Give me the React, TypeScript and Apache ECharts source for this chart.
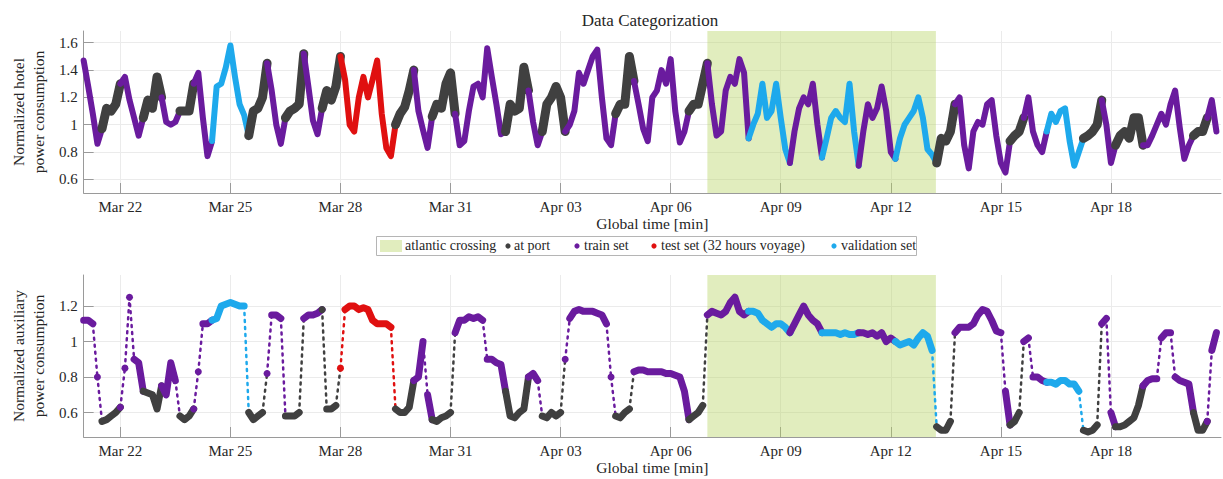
import React, { useEffect, useRef } from 'react';
import * as echarts from 'echarts';

// Samples are spaced 3 hours apart, starting Mar 21 00:00; the axis spans 31 days.
const STEP_H = 3;
const SPAN_H = 744;

// Normalized hotel power consumption, one row per day (8 samples).
const hotelPower = [
  1.47, 1.28, 1.08, 0.86, 0.97, 1.12, 1.10, 1.15,
  1.30, 1.35, 1.18, 1.05, 0.92, 1.05, 1.18, 1.12,
  1.35, 1.20, 1.02, 1.00, 1.02, 1.10, 1.10, 1.10,
  1.30, 1.38, 1.05, 0.77, 0.88, 1.28, 1.30, 1.42,
  1.58, 1.35, 1.15, 1.07, 0.92, 1.10, 1.12, 1.20,
  1.45, 1.25, 1.00, 0.86, 1.05, 1.10, 1.12, 1.15,
  1.52, 1.28, 1.03, 0.93, 1.12, 1.25, 1.18, 1.28,
  1.50, 1.33, 1.00, 0.95, 1.20, 1.35, 1.20, 1.33,
  1.47, 1.08, 0.83, 0.77, 1.00, 1.08, 1.13, 1.25,
  1.40, 1.10, 0.96, 0.83, 1.06, 1.15, 1.12, 1.30,
  1.38, 1.08, 0.85, 0.88, 1.10, 1.28, 1.30, 1.20,
  1.56, 1.35, 1.15, 0.93, 0.95, 1.15, 1.10, 1.12,
  1.42, 1.25, 1.02, 0.85, 0.95, 1.15, 1.20, 1.28,
  1.20, 0.95, 1.00, 1.10, 1.38, 1.30, 1.40, 1.50,
  1.55, 1.20, 0.90, 0.85, 1.08, 1.15, 1.15, 1.50,
  1.32, 1.15, 0.97, 0.88, 1.20, 1.25, 1.40, 1.30,
  1.48, 1.10, 0.87, 0.95, 1.10, 1.15, 1.15, 1.30,
  1.45, 1.15, 0.92, 0.95, 1.25, 1.35, 1.30, 1.48,
  1.38, 0.90, 1.00, 1.08, 1.30, 1.05, 1.10, 1.30,
  1.05, 0.82, 0.72, 0.95, 1.12, 1.20, 1.15, 1.30,
  1.00, 0.76, 0.90, 1.05, 1.10, 1.05, 1.02, 1.30,
  0.95, 0.70, 0.95, 1.15, 1.05, 1.12, 1.28, 1.10,
  0.80, 0.75, 0.90, 1.00, 1.05, 1.10, 1.20, 1.05,
  0.82, 0.78, 0.72, 0.90, 0.88, 0.95, 1.15, 1.20,
  0.85, 0.68, 0.95, 1.02, 1.00, 1.15, 1.18, 0.92,
  0.72, 0.65, 0.88, 0.92, 0.95, 1.05, 1.20, 0.95,
  0.85, 0.80, 0.95, 1.08, 1.02, 1.10, 1.12, 0.88,
  0.70, 0.80, 0.90, 0.92, 0.95, 1.00, 1.18, 1.00,
  0.72, 0.85, 0.92, 0.95, 0.90, 1.05, 1.05, 0.85,
  0.85, 0.92, 1.00, 1.08, 1.00, 1.15, 1.25, 0.98,
  0.75, 0.85, 0.92, 0.95, 0.95, 1.05, 1.18, 0.95,
];

// Normalized auxiliary power consumption, same time base.
const auxPower = [
  1.12, 1.12, 1.10, 0.80, 0.55, 0.56, 0.58, 0.60,
  0.63, 0.85, 1.25, 0.90, 0.88, 0.72, 0.71, 0.70,
  0.62, 0.75, 0.70, 0.88, 0.78, 0.58, 0.56, 0.58,
  0.62, 0.83, 1.10, 1.10, 1.12, 1.13, 1.20, 1.21,
  1.22, 1.21, 1.20, 1.20, 0.60, 0.56, 0.58, 0.60,
  0.82, 1.15, 1.15, 1.13, 0.58, 0.58, 0.58, 0.60,
  1.13, 1.15, 1.15, 1.16, 1.18, 0.62, 0.62, 0.64,
  0.85, 1.18, 1.20, 1.20, 1.18, 1.19, 1.18, 1.12,
  1.10, 1.10, 1.10, 1.08, 0.62, 0.60, 0.60, 0.63,
  0.78, 0.80, 1.00, 0.70, 0.56, 0.55, 0.57, 0.58,
  0.60, 1.05, 1.12, 1.12, 1.14, 1.13, 1.14, 1.12,
  0.90, 0.90, 0.88, 0.87, 0.72, 0.58, 0.57, 0.60,
  0.62, 0.80, 0.82, 0.78, 0.58, 0.57, 0.60, 0.58,
  0.60, 0.90, 1.13, 1.17, 1.18, 1.17, 1.17, 1.17,
  1.16, 1.15, 1.10, 0.80, 0.58, 0.57, 0.60, 0.62,
  0.83, 0.84, 0.84, 0.83, 0.83, 0.83, 0.83, 0.82,
  0.82, 0.81, 0.80, 0.72, 0.56, 0.58, 0.60, 0.64,
  1.15, 1.17, 1.16, 1.15, 1.17, 1.22, 1.25, 1.17,
  1.15, 1.17, 1.17, 1.16, 1.12, 1.10, 1.08, 1.10,
  1.10, 1.08, 1.05, 1.10, 1.15, 1.20, 1.15, 1.12,
  1.10, 1.05, 1.05, 1.05, 1.05, 1.04, 1.05, 1.04,
  1.04, 1.05, 1.05, 1.04, 1.05, 1.03, 1.05, 1.00,
  1.02, 1.00, 0.98, 0.99, 1.00, 0.98, 1.02, 1.05,
  1.03, 0.95, 0.52, 0.50, 0.50, 0.55, 1.05, 1.08,
  1.08, 1.08, 1.10, 1.15, 1.18, 1.17, 1.12, 1.06,
  1.05, 0.72, 0.53, 0.55, 0.60, 1.00, 1.02, 0.80,
  0.80, 0.78, 0.77, 0.77, 0.76, 0.78, 0.78, 0.76,
  0.76, 0.72, 0.50, 0.49, 0.50, 0.53, 1.10, 1.13,
  0.60, 0.52, 0.52, 0.53, 0.55, 0.57, 0.64, 0.75,
  0.78, 0.79, 0.79, 1.02, 1.05, 1.05, 0.80, 0.78,
  0.77, 0.76, 0.60, 0.50, 0.50, 0.55, 0.95, 1.05,
];

// Category of each stretch of samples: [start hour, set].
const dataSets: [number, string][] = [
  [0, 'train'], [11, 'port'], [24, 'train'], [38, 'port'], [50, 'train'],
  [62, 'port'], [72, 'train'], [84, 'val'], [108, 'port'], [119, 'train'],
  [130, 'port'], [142, 'train'], [156, 'port'], [167, 'test'], [203, 'port'],
  [216, 'train'], [227, 'port'], [241, 'train'], [276, 'port'], [289, 'train'],
  [300, 'port'], [314, 'train'], [347, 'port'], [358, 'train'], [394, 'port'],
  [407, 'train'], [435, 'val'], [460, 'train'], [483, 'val'], [507, 'train'],
  [530, 'val'], [557, 'port'], [569, 'train'], [604, 'port'], [613, 'train'],
  [629, 'val'], [653, 'port'], [665, 'train'], [673, 'port'], [692, 'train'],
  [724, 'port'], [735, 'train'],
];

// Atlantic crossing window, in hours.
const crossingH = [408, 557.5];

const xTickHours = [24, 96, 168, 240, 312, 384, 456, 528, 600, 672];
const xTickLabels = ['Mar 22', 'Mar 25', 'Mar 28', 'Mar 31', 'Apr 03', 'Apr 06', 'Apr 09', 'Apr 12', 'Apr 15', 'Apr 18'];
const hotelTicks = [0.6, 0.8, 1, 1.2, 1.4, 1.6];
const auxTicks = [0.6, 0.8, 1, 1.2];

const legendNames = ['atlantic crossing', 'at port', 'train set', 'test set (32 hours voyage)', 'validation set'];

const SET_STYLE: Record<string, { label: string; color: string }> = {
  port: { label: 'at port', color: '#404040' },
  train: { label: 'train set', color: '#6a1b9e' },
  test: { label: 'test set (32 hours voyage)', color: '#e01010' },
  val: { label: 'validation set', color: '#1ea9ec' },
};
const CROSSING_FILL = 'rgba(180,210,92,0.4)';
const FONT = '"Liberation Serif", "Times New Roman", serif';
const TEXT = '#262626';
const AXIS = '#9a9a9a';
const GRID = '#ebebeb';

type Pt = [number, number];

// One line series per contiguous run of a set; sudden level jumps
// (wider than jumpLimit) are drawn as sparse dotted transitions.
function segmentSeries(
  values: number[],
  axisIdx: number,
  widthOf: (set: string) => number,
  jumpLimit: number,
) {
  const out: any[] = [];
  dataSets.forEach(([start, set], i) => {
    const end = i + 1 < dataSets.length ? dataSets[i + 1][0] : SPAN_H;
    const pts: Pt[] = [];
    values.forEach((v, k) => {
      const t = k * STEP_H;
      if (t >= start && t < end) pts.push([t, v]);
    });
    const nextK = Math.ceil(end / STEP_H);
    if (nextK < values.length) pts.push([nextK * STEP_H, values[nextK]]);

    const color = SET_STYLE[set].color;
    const width = widthOf(set);
    const runs: Pt[][] = [];
    const jumps: Pt[][] = [];
    let cur: Pt[] = [pts[0]];
    for (let j = 1; j < pts.length; j++) {
      if (Math.abs(pts[j][1] - pts[j - 1][1]) > jumpLimit) {
        runs.push(cur);
        jumps.push([pts[j - 1], pts[j]]);
        cur = [pts[j]];
      } else {
        cur.push(pts[j]);
      }
    }
    runs.push(cur);

    runs.forEach((run, r) => {
      const single = run.length === 1;
      // a lone final point belongs to the next set, which draws it itself
      if (single && r === runs.length - 1 && runs.length > 1 && i + 1 < dataSets.length) return;
      out.push({
        type: 'line',
        name: SET_STYLE[set].label,
        xAxisIndex: axisIdx,
        yAxisIndex: axisIdx,
        data: run,
        showSymbol: single,
        symbol: 'circle',
        symbolSize: width,
        silent: true,
        z: 3,
        lineStyle: { width, color, cap: 'round', join: 'round' },
        itemStyle: { color },
      });
    });
    jumps.forEach((pair) => {
      out.push({
        type: 'line',
        name: SET_STYLE[set].label,
        xAxisIndex: axisIdx,
        yAxisIndex: axisIdx,
        data: pair,
        showSymbol: false,
        symbol: 'none',
        silent: true,
        z: 2,
        lineStyle: { width: 2.5, color, type: [2, 5], cap: 'round' },
      });
    });
  });
  return out;
}

function xAxisFor(gridIndex: number) {
  return {
    type: 'value',
    gridIndex,
    min: 0,
    max: SPAN_H,
    name: 'Global time [min]',
    nameLocation: 'middle',
    nameGap: 22,
    nameTextStyle: { fontFamily: FONT, fontSize: 15.5, color: TEXT },
    axisLine: { show: true, lineStyle: { color: AXIS, width: 1 } },
    axisTick: { show: true, inside: true, length: 10, customValues: xTickHours, lineStyle: { color: AXIS } },
    axisLabel: {
      customValues: xTickHours,
      margin: 6,
      fontFamily: FONT,
      fontSize: 15,
      color: TEXT,
      formatter: (v: number) => {
        const i = xTickHours.indexOf(v);
        return i >= 0 ? xTickLabels[i] : '';
      },
    },
    splitLine: { show: true, lineStyle: { color: GRID, width: 1 } },
  };
}

function yAxisFor(gridIndex: number, name: string, min: number, max: number, ticks: number[]) {
  return {
    type: 'value',
    gridIndex,
    min,
    max,
    name,
    nameLocation: 'middle',
    nameRotate: 90,
    nameGap: 26,
    nameTextStyle: { fontFamily: FONT, fontSize: 15.5, color: TEXT, lineHeight: 20 },
    axisLine: { show: true, lineStyle: { color: AXIS, width: 1 } },
    axisTick: { show: true, inside: true, length: 10, customValues: ticks, lineStyle: { color: AXIS } },
    axisLabel: {
      customValues: ticks,
      margin: 6,
      fontFamily: FONT,
      fontSize: 15,
      color: TEXT,
      formatter: (v: number) => String(Math.round(v * 10) / 10),
    },
    splitLine: { show: true, lineStyle: { color: GRID, width: 1 } },
  };
}

function crossingSeries(axisIdx: number) {
  return {
    type: 'line',
    xAxisIndex: axisIdx,
    yAxisIndex: axisIdx,
    data: [],
    silent: true,
    z: 1,
    markArea: {
      silent: true,
      itemStyle: { color: CROSSING_FILL },
      data: [[{ xAxis: crossingH[0] }, { xAxis: crossingH[1] }]],
    },
  };
}

function legendGraphic() {
  const y = 246;
  const label = (text: string, x: number) => ({
    type: 'text',
    left: x,
    top: y - 8,
    style: { text, fontFamily: FONT, fontSize: 14, fill: TEXT },
  });
  const dot = (cx: number, color: string) => ({
    type: 'circle',
    shape: { cx, cy: y, r: 2.6 },
    style: { fill: color },
  });
  return [
    {
      type: 'rect',
      shape: { x: 376.5, y: 236.5, width: 540, height: 19 },
      style: { fill: '#ffffff', stroke: '#b5b5b5', lineWidth: 1 },
    },
    {
      type: 'rect',
      shape: { x: 380, y: 240, width: 22, height: 12 },
      style: { fill: CROSSING_FILL },
    },
    label(legendNames[0], 405),
    dot(508, SET_STYLE.port.color),
    label(legendNames[1], 514),
    dot(577, SET_STYLE.train.color),
    label(legendNames[2], 584),
    dot(654, SET_STYLE.test.color),
    label(legendNames[3], 661),
    dot(834, SET_STYLE.val.color),
    label(legendNames[4], 841),
  ];
}

export default function App() {
  const ref = useRef<HTMLDivElement>(null);

  useEffect(() => {
    if (!ref.current) return;
    const chart = echarts.init(ref.current, undefined, { renderer: 'svg' });
    chart.setOption({
      animation: false,
      backgroundColor: '#ffffff',
      title: {
        text: 'Data Categorization',
        left: 645,
        top: 7,
        textAlign: 'center',
        textStyle: { fontFamily: FONT, fontSize: 17, fontWeight: 'normal', color: TEXT },
      },
      grid: [
        { left: 70, right: 2, top: 31, height: 162 },
        { left: 70, right: 2, top: 275, height: 162 },
      ],
      xAxis: [xAxisFor(0), xAxisFor(1)],
      yAxis: [
        yAxisFor(0, 'Normalized hotel\npower consumption', 0.5, 1.686, hotelTicks),
        yAxisFor(1, 'Normalized auxiliary\npower consumption', 0.462, 1.375, auxTicks),
      ],
      series: [
        crossingSeries(0),
        crossingSeries(1),
        // the hotel load scatters more widely while at port
        ...segmentSeries(hotelPower, 0, (set) => (set === 'port' ? 9 : 6), 10),
        ...segmentSeries(auxPower, 1, () => 7, 0.2),
      ],
      graphic: legendGraphic(),
    });
    return () => chart.dispose();
  }, []);

  return (
    <div
      ref={ref}
      style={{ position: 'absolute', left: 0, top: 0, width: 1223, height: 479 }}
    />
  );
}
